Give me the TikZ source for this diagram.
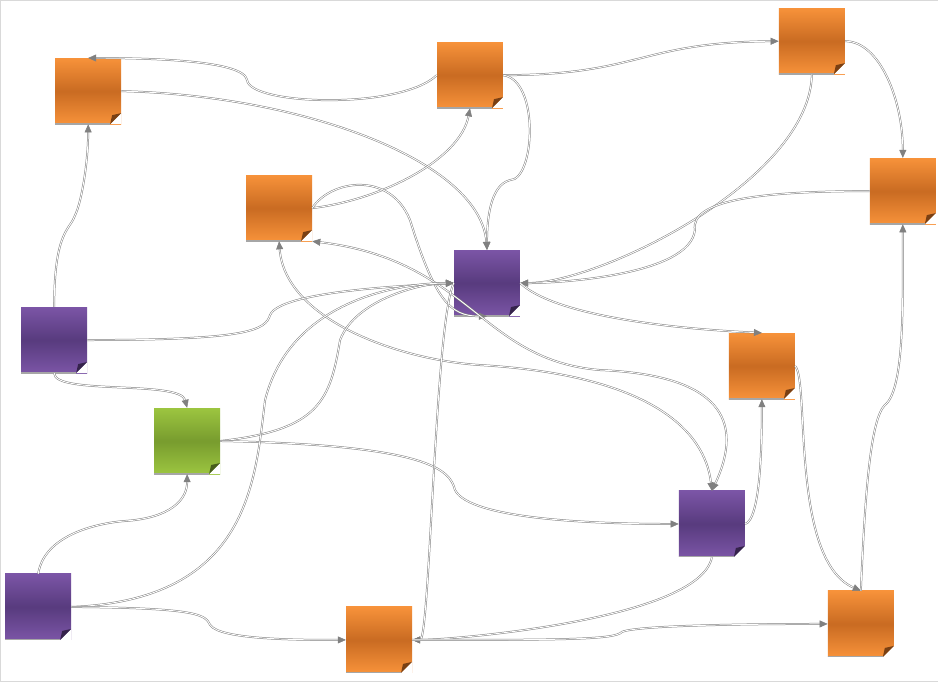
\documentclass[tikz,border=0pt]{standalone}
\usetikzlibrary{arrows.meta}
\definecolor{orA}{HTML}{F7923A}
\definecolor{orB}{HTML}{C96B22}
\definecolor{puA}{HTML}{7B55A6}
\definecolor{puB}{HTML}{583B7E}
\definecolor{grA}{HTML}{9CC540}
\definecolor{grB}{HTML}{789C2E}
\begin{document}
\begin{tikzpicture}
      [ x=1pt, y=-1pt
      , sheet/.style={minimum size=66pt, inner sep=0pt,
          path picture={
            \fill[white] ([xshift=-11pt]path picture bounding box.south east) -- (path picture bounding box.south east) -- ([yshift=11pt]path picture bounding box.south east) -- cycle;
            \fill[#1!60!black] ([xshift=-11pt]path picture bounding box.south east) -- ([yshift=11pt]path picture bounding box.south east) -- ([xshift=-9pt,yshift=9pt]path picture bounding box.south east) -- cycle;
            \draw[gray!70, line width=2pt] (path picture bounding box.south west) -- ([xshift=-11pt]path picture bounding box.south east);}}
      , orange/.style={sheet=orB, top color=orA, bottom color=orA, middle color=orB}
      , purple/.style={sheet=puB, top color=puA, bottom color=puA, middle color=puB}
      , green/.style={sheet=grB, top color=grA, bottom color=grA, middle color=grB}
      , link/.style={draw=gray, double=white, double distance=0.9pt, line width=0.5pt,
          -{Triangle[length=8pt,width=7pt,fill=gray]}}
      , twoway/.style={link, {Triangle[length=8pt,width=7pt,fill=gray]}-{Triangle[length=8pt,width=7pt,fill=gray]}}
      ]
    \draw[gray!30, fill=white] (0,0) rectangle (938,681);

    \node[orange] (O1) at (88,91) {};
    \node[orange] (O2) at (470,75) {};
    \node[orange] (O3) at (812,41) {};
    \node[orange] (O4) at (279,208) {};
    \node[orange] (O5) at (903,191) {};
    \node[purple] (P1) at (487,283) {};
    \node[purple] (P2) at (54,340) {};
    \node[orange] (O6) at (762,366) {};
    \node[green] (G) at (187,441) {};
    \node[purple] (P3) at (712,524) {};
    \node[purple] (P4) at (38,607) {};
    \node[orange] (O7) at (379,640) {};
    \node[orange] (O8) at (861,624) {};

    \draw[link] (O2.west) .. controls (400,110) and (250,105) .. (247,80) .. controls (244,60) and (150,58) .. (O1.north);
    \draw[link] (O1.east) .. controls (300,95) and (480,160) .. (P1.north);
    \draw[link] (O2.east) .. controls (640,75) and (640,42) .. (O3.west);
    \draw[link] (O2.east) .. controls (540,80) and (535,180) .. (510,180) .. controls (490,185) and (487,220) .. (P1.north);
    \draw[link] (O3.south) .. controls (810,180) and (600,283) .. (P1.east);
    \draw[link] (O3.east) .. controls (880,41) and (903,100) .. (O5.north);
    \draw[link] (O5.west) .. controls (760,191) and (690,200) .. (695,230) .. controls (690,275) and (560,283) .. (P1.east);
    \draw[link] (O4.east) .. controls (380,200) and (460,160) .. (O2.south);
    \draw[link] (O4.east) .. controls (330,180) and (390,170) .. (410,220) .. controls (435,300) and (450,316) .. (P1.south);
    \draw[twoway] (P3.north) .. controls (745,420) and (720,375) .. (600,370) .. controls (480,360) and (470,260) .. (O4.south east);
    \draw[twoway] (O4.south) .. controls (285,320) and (400,360) .. (480,365) .. controls (650,375) and (705,430) .. (P3.north);
    \draw[link] (P2.north) .. controls (54,230) and (70,230) .. (75,215) .. controls (82,200) and (88,160) .. (O1.south);
    \draw[link] (P2.east) .. controls (250,340) and (265,330) .. (270,315) .. controls (280,290) and (420,285) .. (P1.west);
    \draw[link] (P2.south) .. controls (54,395) and (180,380) .. (G.north);
    \draw[link] (G.east) .. controls (320,430) and (330,400) .. (340,340) .. controls (355,300) and (420,283) .. (P1.west);
    \draw[link] (G.east) .. controls (430,445) and (450,470) .. (455,490) .. controls (470,520) and (600,524) .. (P3.west);
    \draw[link] (P4.north) .. controls (45,530) and (110,522) .. (125,521) .. controls (170,518) and (187,500) .. (G.south);
    \draw[link] (P4.east) .. controls (250,600) and (255,480) .. (265,400) .. controls (290,300) and (400,283) .. (P1.west);
    \draw[link] (P4.east) .. controls (200,608) and (205,615) .. (210,625) .. controls (220,640) and (300,640) .. (O7.west);
    \draw[link] (P1.west) .. controls (435,320) and (430,640) .. (O7.east);
    \draw[link] (P3.south) .. controls (700,620) and (450,640) .. (O7.east);
    \draw[link] (O7.east) .. controls (560,640) and (615,640) .. (622,632) .. controls (640,624) and (800,624) .. (O8.west);
    \draw[link] (P3.east) .. controls (760,520) and (762,450) .. (O6.south);
    \draw[link] (P1.east) .. controls (560,320) and (700,330) .. (O6.north);
    \draw[link] (O6.east) .. controls (810,380) and (790,560) .. (O8.north);
    \draw[link] (O8.north) .. controls (865,500) and (870,420) .. (885,405) .. controls (905,390) and (903,300) .. (O5.south);
  \end{tikzpicture}
\end{document}
